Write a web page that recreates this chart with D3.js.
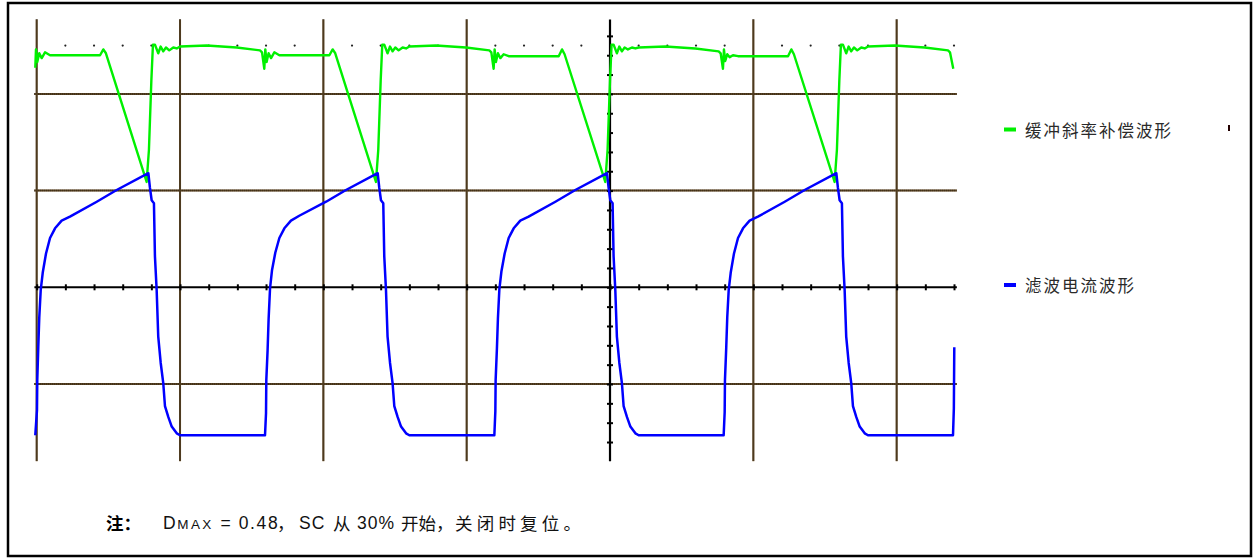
<!DOCTYPE html>
<html>
<head>
<meta charset="utf-8">
<script src="https://cdn.jsdelivr.net/npm/d3@7"></script>
<style>
  body { margin: 0; background: #fff; }
  svg { display: block; }
</style>
</head>
<body>
<svg id="chart" width="1256" height="558"></svg>
<script>
// Oscilloscope-style capture: time and level both in screen divisions.
const seriesNames = ["缓冲斜率补偿波形", "滤波电流波形"];
const seriesColors = ["#00f000", "#0000ff"];

const majorTimes = [0, 1, 2, 3, 5, 6];      // vertical graticule lines (4 is the centre axis)
const majorLevels = [2, 1, -1];             // horizontal graticule lines (0 is the centre axis)
const minorTimeTicks = d3.range(0, 33).map(i => +(i * 0.2).toFixed(1));
const minorLevelTicks = d3.range(-8, 14).map(i => +(i * 0.2).toFixed(1));
const markerLevel = 2.5;
const markerTimes = minorTimeTicks.filter(t => t > 0 && Math.abs(t - Math.round(t)) > 1e-6);

// Buffered slope-compensation waveform [time, level]
const bufferedSlope = [
  [-0.010, 2.27], [-0.005, 2.46], [0.004, 2.33], [0.018, 2.42], [0.035, 2.37], [0.058, 2.43], [0.093, 2.40],
  [0.442, 2.40], [0.465, 2.46], [0.483, 2.42], [0.767, 1.09], [0.783, 1.42], [0.800, 2.14], [0.811, 2.51],
  [0.825, 2.51], [0.848, 2.42], [0.865, 2.49], [0.883, 2.44], [0.902, 2.48], [0.925, 2.45], [0.953, 2.48],
  [0.977, 2.47], [1.000, 2.49], [1.186, 2.50], [1.395, 2.48], [1.558, 2.45], [1.572, 2.43],
  [1.588, 2.26], [1.595, 2.46], [1.604, 2.33], [1.618, 2.42], [1.635, 2.37], [1.658, 2.43], [1.693, 2.40],
  [2.042, 2.40], [2.065, 2.46], [2.083, 2.42], [2.367, 1.09], [2.383, 1.42], [2.400, 2.14], [2.411, 2.51],
  [2.425, 2.51], [2.448, 2.42], [2.465, 2.49], [2.483, 2.44], [2.502, 2.48], [2.525, 2.45], [2.553, 2.48],
  [2.577, 2.47], [2.600, 2.49], [2.786, 2.50], [2.995, 2.48], [3.158, 2.45], [3.172, 2.43],
  [3.188, 2.26], [3.195, 2.46], [3.204, 2.33], [3.218, 2.42], [3.235, 2.37], [3.258, 2.41], [3.293, 2.39],
  [3.642, 2.39], [3.665, 2.46], [3.683, 2.41], [3.967, 1.09], [3.983, 1.42], [4.000, 2.14], [4.011, 2.51],
  [4.025, 2.51], [4.048, 2.42], [4.065, 2.49], [4.083, 2.44], [4.102, 2.48], [4.125, 2.46], [4.153, 2.48],
  [4.177, 2.47], [4.200, 2.48], [4.386, 2.49], [4.595, 2.47], [4.758, 2.44], [4.772, 2.42],
  [4.788, 2.26], [4.795, 2.46], [4.804, 2.34], [4.818, 2.41], [4.835, 2.38], [4.858, 2.40], [4.893, 2.39],
  [5.242, 2.39], [5.265, 2.46], [5.283, 2.41], [5.567, 1.09], [5.583, 1.42], [5.600, 2.14], [5.611, 2.51],
  [5.625, 2.51], [5.648, 2.42], [5.665, 2.49], [5.683, 2.44], [5.702, 2.48], [5.725, 2.45], [5.753, 2.48],
  [5.777, 2.47], [5.800, 2.49], [5.986, 2.50], [6.195, 2.48], [6.358, 2.45], [6.372, 2.43], [6.395, 2.26]
];

// Filtered inductor-current waveform [time, level]
const filteredCurrent = [
  [-0.010, -1.53], [0.002, -1.27], [0.004, -0.96], [0.011, -0.62], [0.018, -0.31], [0.028, -0.03], [0.042, 0.15],
  [0.065, 0.35], [0.093, 0.51], [0.128, 0.61], [0.174, 0.69], [0.232, 0.73], [0.419, 0.885], [0.558, 1.006],
  [0.779, 1.18], [0.790, 1.03], [0.802, 0.90], [0.818, 0.87], [0.825, 0.32], [0.837, -0.03], [0.848, -0.51],
  [0.865, -0.78], [0.883, -0.99], [0.895, -1.23], [0.918, -1.34], [0.942, -1.44], [0.977, -1.51], [1.000, -1.53],
  [1.593, -1.53],
  [1.600, -1.30], [1.602, -0.96], [1.611, -0.65], [1.618, -0.33], [1.628, -0.01], [1.642, 0.18], [1.665, 0.36],
  [1.693, 0.51], [1.728, 0.61], [1.774, 0.69], [1.832, 0.74], [2.019, 0.885], [2.158, 1.006],
  [2.379, 1.18], [2.390, 1.03], [2.402, 0.90], [2.418, 0.87], [2.425, 0.32], [2.437, -0.03], [2.448, -0.51],
  [2.465, -0.78], [2.483, -0.99], [2.495, -1.23], [2.518, -1.34], [2.542, -1.44], [2.577, -1.51], [2.600, -1.53],
  [3.193, -1.53],
  [3.200, -1.28], [3.202, -0.96], [3.211, -0.63], [3.218, -0.32], [3.228, -0.02], [3.242, 0.16], [3.265, 0.35],
  [3.293, 0.51], [3.328, 0.61], [3.374, 0.69], [3.432, 0.73], [3.619, 0.885], [3.758, 1.006],
  [3.979, 1.18], [3.990, 1.03], [4.002, 0.90], [4.018, 0.87], [4.025, 0.32], [4.037, -0.03], [4.048, -0.51],
  [4.065, -0.78], [4.083, -0.99], [4.095, -1.23], [4.118, -1.34], [4.142, -1.44], [4.177, -1.51], [4.200, -1.53],
  [4.793, -1.53],
  [4.800, -1.29], [4.802, -0.96], [4.811, -0.62], [4.818, -0.31], [4.828, -0.03], [4.842, 0.15], [4.865, 0.35],
  [4.893, 0.51], [4.928, 0.61], [4.974, 0.69], [5.032, 0.73], [5.219, 0.885], [5.358, 1.006],
  [5.579, 1.18], [5.590, 1.03], [5.602, 0.90], [5.618, 0.87], [5.625, 0.32], [5.637, -0.03], [5.648, -0.51],
  [5.665, -0.78], [5.683, -0.99], [5.695, -1.23], [5.718, -1.34], [5.742, -1.44], [5.777, -1.51], [5.800, -1.53],
  [6.393, -1.53], [6.399, -1.25], [6.402, -0.62]
];

// Footnote pieces
const noteLead = "注：";
const noteSegments = [
  { text: "D", dx: 0, size: 17.5, latin: true, ls: 0 },
  { text: "MAX", dx: 14.3, size: 13.5, latin: true, ls: 2.4 },
  { text: "= 0.48", dx: 57.5, size: 17.5, latin: true, ls: 1.6 },
  { text: "，", dx: 114, size: 17.5, latin: false, ls: 0 },
  { text: "SC", dx: 136, size: 17.5, latin: true, ls: 1 },
  { text: "从", dx: 170, size: 17.5, latin: false, ls: 0 },
  { text: "30%", dx: 194, size: 17.5, latin: true, ls: 1 },
  { text: "开始，", dx: 238, size: 17.5, latin: false, ls: 0 },
  { text: "关闭时复位。", dx: 292, size: 17.5, latin: false, ls: 4.2 }
];

const svg = d3.select("#chart");

// Outer frame
svg.append("rect")
  .attr("x", 8).attr("y", 3).attr("width", 1243).attr("height", 553)
  .attr("fill", "#fff").attr("stroke", "#000").attr("stroke-width", 2.5);

const x = d3.scaleLinear().domain([0, 6.4]).range([36.7, 954]);
const y = d3.scaleLinear().domain([0, 1]).range([287.3, 190.6]);
const tMin = -0.016, tMax = 6.42, vMin = -1.8, vMax = 2.77;

const grid = svg.append("g");
// Graticule line: tan base with a fine dark dotted overlay
const gridLine = (x1, y1, x2, y2) => {
  grid.append("line").attr("x1", x1).attr("y1", y1).attr("x2", x2).attr("y2", y2)
    .attr("stroke", "#86683a").attr("stroke-width", 2);
  grid.append("line").attr("x1", x1).attr("y1", y1).attr("x2", x2).attr("y2", y2)
    .attr("stroke", "#140c04").attr("stroke-width", 2).attr("stroke-dasharray", "1 1");
};

majorLevels.forEach(v => gridLine(x(tMin), y(v), x(tMax), y(v)));
majorTimes.forEach(t => gridLine(x(t), y(vMax), x(t), y(vMin)));

// Marker dots along the upper reference level
grid.selectAll("circle.mk").data(markerTimes).join("circle")
  .attr("class", "mk")
  .attr("cx", d => x(d)).attr("cy", y(markerLevel)).attr("r", 1.1)
  .attr("fill", "#222");

// Centre axes with minor ticks
const axisX = d3.axisBottom(x).tickValues(minorTimeTicks).tickSize(6).tickFormat("");
const gx = svg.append("g").attr("transform", `translate(0,${y(0) - 3})`).call(axisX);
gx.select(".domain").remove();
gx.selectAll(".tick line").attr("stroke", "#000").attr("stroke-width", 2);
svg.append("line")
  .attr("x1", x(tMin)).attr("x2", x(tMax)).attr("y1", y(0)).attr("y2", y(0))
  .attr("stroke", "#000").attr("stroke-width", 2);

const axisY = d3.axisRight(y).tickValues(minorLevelTicks).tickSize(6).tickFormat("");
const gy = svg.append("g").attr("transform", `translate(${x(4) - 3},0)`).call(axisY);
gy.select(".domain").remove();
gy.selectAll(".tick line").attr("stroke", "#000").attr("stroke-width", 2);
svg.append("line")
  .attr("x1", x(4)).attr("x2", x(4)).attr("y1", y(vMax)).attr("y2", y(vMin))
  .attr("stroke", "#000").attr("stroke-width", 2.2);

// Waveforms
const line = d3.line().x(d => x(d[0])).y(d => y(d[1]));
svg.append("path").datum(bufferedSlope)
  .attr("d", line).attr("fill", "none")
  .attr("stroke", seriesColors[0]).attr("stroke-width", 2.4).attr("stroke-linejoin", "round");
svg.append("path").datum(filteredCurrent)
  .attr("d", line).attr("fill", "none")
  .attr("stroke", seriesColors[1]).attr("stroke-width", 2.5).attr("stroke-linejoin", "round");

// Legend
const legendY = [129.5, 285];
const legend = svg.append("g");
seriesNames.forEach((name, i) => {
  legend.append("rect")
    .attr("x", 1004).attr("y", legendY[i] - 2).attr("width", 12).attr("height", 4)
    .attr("fill", seriesColors[i]);
  legend.append("text")
    .attr("x", 1025).attr("y", legendY[i])
    .attr("dominant-baseline", "central")
    .attr("font-family", "'Noto Sans CJK SC', sans-serif")
    .attr("font-size", 16.5).attr("letter-spacing", 2)
    .attr("fill", "#2a2a2a")
    .text(name);
});
svg.append("line")
  .attr("x1", 1229).attr("x2", 1229).attr("y1", 125).attr("y2", 131)
  .attr("stroke", "#200").attr("stroke-width", 2);

// Footnote
const noteY = 522.5;
const noteX = 163;
svg.append("text")
  .attr("x", 106).attr("y", noteY).attr("dominant-baseline", "central")
  .attr("font-family", "'Noto Sans CJK SC', sans-serif").attr("font-weight", "bold")
  .attr("font-size", 17.5).attr("fill", "#000")
  .text(noteLead);

const note = svg.append("g");
noteSegments.forEach(s => {
  note.append("text")
    .attr("x", noteX + s.dx)
    .attr("y", s.latin ? noteY + 6.3 : noteY)
    .attr("dominant-baseline", s.latin ? "alphabetic" : "central")
    .attr("font-family", s.latin ? "'Liberation Sans', Arial, sans-serif" : "'Noto Sans CJK SC', sans-serif")
    .attr("font-size", s.size)
    .attr("letter-spacing", s.ls)
    .attr("fill", "#111")
    .text(s.text);
});
</script>
</body>
</html>
